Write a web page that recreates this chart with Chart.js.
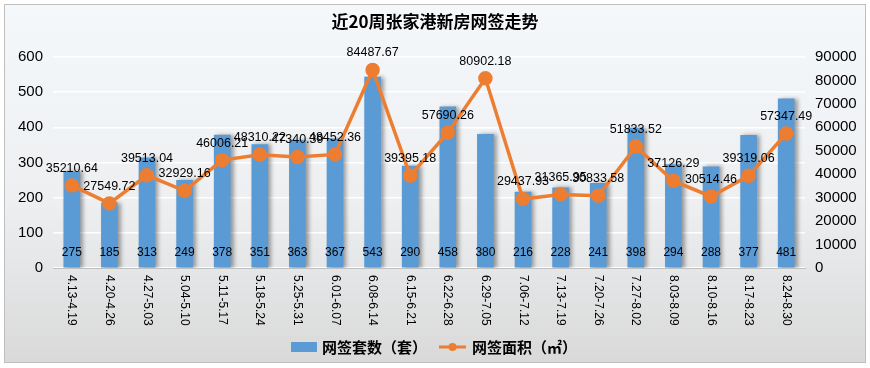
<!DOCTYPE html>
<html>
<head>
<meta charset="utf-8">
<script src="https://cdn.jsdelivr.net/npm/chart.js@4/dist/chart.umd.min.js"></script>
<style>
    html, body { margin: 0; padding: 0; background: #ffffff; }
    #wrap { width: 870px; height: 368px; position: relative; }
</style>
</head>
<body>
<div id="wrap"><canvas id="weekChart" width="870" height="368"></canvas></div>
<script>
const weeks = ['4.13-4.19', '4.20-4.26', '4.27-5.03', '5.04-5.10', '5.11-5.17', '5.18-5.24', '5.25-5.31',
    '6.01-6.07', '6.08-6.14', '6.15-6.21', '6.22-6.28', '6.29-7.05', '7.06-7.12', '7.13-7.19',
    '7.20-7.26', '7.27-8.02', '8.03-8.09', '8.10-8.16', '8.17-8.23', '8.24-8.30'];
const deals = [275, 185, 313, 249, 378, 351, 363, 367, 543, 290, 458, 380, 216, 228, 241, 398, 294, 288, 377, 481];
const areas = [35210.64, 27549.72, 39513.04, 32929.16, 46006.21, 48310.22, 47340.39, 48452.36, 84487.67, 39395.18,
    57690.26, 80902.18, 29437.93, 31365.95, 30833.58, 51833.52, 37126.29, 30514.46, 39319.06, 57347.49];
const leftTicks = [0, 100, 200, 300, 400, 500, 600];
const rightTicks = [0, 10000, 20000, 30000, 40000, 50000, 60000, 70000, 80000, 90000];

const chartTitle = '近20周张家港新房网签走势';
const dealsLabel = '网签套数（套）';
const areasLabel = '网签面积（㎡）';

const BLUE = '#5b9bd5';
const ORANGE = '#ed7d31';
const FONT = '"Liberation Sans", Arial, sans-serif';

// frame + background gradient
const framePlugin = {
    id: 'frame',
    beforeDraw(chart) {
        const { ctx } = chart;
        ctx.save();
        const g = ctx.createLinearGradient(0, 4, 0, 363);
        g.addColorStop(0, '#f5f8fb');
        g.addColorStop(0.55, '#edeff1');
        g.addColorStop(1, '#d9d9d9');
        ctx.fillStyle = g;
        ctx.fillRect(4, 4, 862, 359);
        ctx.strokeStyle = '#bfbfbf';
        ctx.lineWidth = 1;
        ctx.strokeRect(4.5, 4.5, 861, 358);
        ctx.restore();
    }
};

// soft shadow to the right of bars
const barShadow = {
    id: 'barShadow',
    beforeDatasetDraw(chart, args) {
        if (args.index !== 0) return;
        const { ctx } = chart;
        ctx.save();
        ctx.shadowColor = 'rgba(0,0,0,0.35)';
        ctx.shadowBlur = 4;
        ctx.shadowOffsetX = 3;
        ctx.shadowOffsetY = 0;
    },
    afterDatasetDraw(chart, args) {
        if (args.index !== 0) return;
        chart.ctx.restore();
    }
};

// title, value labels, rotated category labels, legend
const textPlugin = {
    id: 'texts',
    afterDraw(chart) {
        const { ctx, chartArea } = chart;
        ctx.save();

        ctx.fillStyle = '#000';
        ctx.font = 'bold 17px "Noto Sans CJK SC", sans-serif';
        ctx.textAlign = 'center';
        ctx.textBaseline = 'middle';
        ctx.fillText(chartTitle, 435, 22);

        // bar values near the bottom of each bar
        ctx.font = '12px ' + FONT;
        const barMeta = chart.getDatasetMeta(0);
        barMeta.data.forEach((bar, i) => {
            ctx.fillText(String(deals[i]), bar.x, chartArea.bottom - 15);
        });

        // line values above the points
        ctx.font = '12.5px ' + FONT;
        const lineMeta = chart.getDatasetMeta(1);
        lineMeta.data.forEach((pt, i) => {
            ctx.fillText(areas[i].toFixed(2), pt.x, pt.y - 17);
        });

        // category labels, rotated clockwise
        const xScale = chart.scales.x;
        ctx.font = '12px ' + FONT;
        ctx.textAlign = 'left';
        weeks.forEach((w, i) => {
            const x = xScale.getPixelForValue(i);
            ctx.save();
            ctx.translate(x, chartArea.bottom + 7);
            ctx.rotate(Math.PI / 2);
            ctx.fillText(w, 0, 0);
            ctx.restore();
        });

        // legend
        const ly = 347;
        ctx.fillStyle = BLUE;
        ctx.fillRect(291, 342, 26, 10);
        ctx.fillStyle = '#000';
        ctx.font = 'bold 15px "Noto Sans CJK SC", sans-serif';
        ctx.textAlign = 'left';
        ctx.fillText(dealsLabel, 322, ly);

        ctx.strokeStyle = ORANGE;
        ctx.lineWidth = 3;
        ctx.beginPath();
        ctx.moveTo(439, ly);
        ctx.lineTo(466, ly);
        ctx.stroke();
        ctx.fillStyle = ORANGE;
        ctx.beginPath();
        ctx.arc(452.5, ly, 4, 0, Math.PI * 2);
        ctx.fill();
        ctx.fillStyle = '#000';
        ctx.fillText(areasLabel, 472, ly);

        ctx.restore();
    }
};

const ctx = document.getElementById('weekChart').getContext('2d');
new Chart(ctx, {
    data: {
        labels: weeks,
        datasets: [{
            type: 'bar',
            label: dealsLabel,
            data: deals,
            yAxisID: 'y',
            backgroundColor: BLUE,
            barThickness: 16,
            order: 2
        }, {
            type: 'line',
            label: areasLabel,
            data: areas,
            yAxisID: 'y1',
            borderColor: ORANGE,
            backgroundColor: ORANGE,
            borderWidth: 3.5,
            pointRadius: 5.5,
            pointHoverRadius: 5.5,
            pointBackgroundColor: ORANGE,
            pointBorderColor: ORANGE,
            tension: 0,
            order: 1
        }]
    },
    options: {
        responsive: false,
        animation: false,
        layout: { padding: { left: 3, right: 5, top: 57, bottom: 0 } },
        plugins: {
            legend: { display: false },
            title: { display: false },
            tooltip: { enabled: false }
        },
        scales: {
            x: {
                type: 'category',
                offset: true,
                grid: { display: false, drawTicks: false },
                border: { display: true, color: '#bfbfbf', width: 1 },
                ticks: { display: false },
                afterFit(scale) { scale.height = 100; }
            },
            y: {
                position: 'left',
                min: 0,
                max: 600,
                afterBuildTicks(scale) { scale.ticks = leftTicks.map(v => ({ value: v })); },
                grid: { color: '#ffffff', lineWidth: 1.5, drawTicks: false },
                border: { display: false },
                ticks: {
                    padding: 10, color: '#000', font: { size: 15, family: FONT },
                    callback: v => String(v)
                },
                afterFit(scale) { scale.width = 50; }
            },
            y1: {
                position: 'right',
                min: 0,
                max: 90000,
                afterBuildTicks(scale) { scale.ticks = rightTicks.map(v => ({ value: v })); },
                grid: { display: false, drawTicks: false },
                border: { display: false },
                ticks: {
                    padding: 10, color: '#000', font: { size: 15, family: FONT },
                    callback: v => String(v)
                },
                afterFit(scale) { scale.width = 60; }
            }
        }
    },
    plugins: [framePlugin, barShadow, textPlugin]
});
</script>
</body>
</html>
